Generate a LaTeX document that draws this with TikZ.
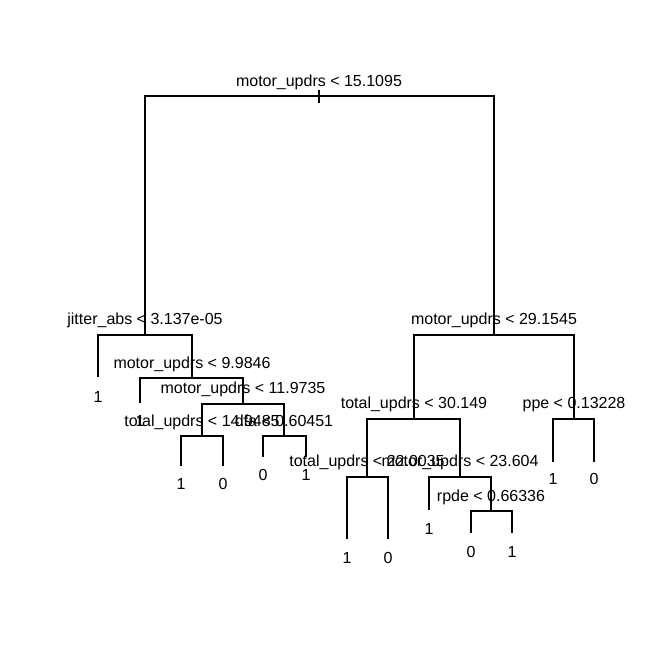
\documentclass[tikz,border=0pt]{standalone}
\usepackage{fontspec}
\setmainfont{Liberation Sans}
\begin{document}
\begin{tikzpicture}[x=1pt,y=-1pt,
  edge/.style={line width=1.1pt},
  lbl/.style={anchor=base,inner sep=0pt,font=\fontsize{16}{19}\selectfont}]
\useasboundingbox (0,0) rectangle (655,655);
% tree node positions
\coordinate (n1) at (319,96);
\coordinate (s1) at (319,90);
\coordinate (s2) at (319,103);
\coordinate (n2) at (145,335);
\coordinate (n3) at (494,335);
\coordinate (l1) at (98,377);
\coordinate (n4) at (192,378);
\coordinate (l2) at (140,403);
\coordinate (n5) at (243,404);
\coordinate (n6) at (202,436);
\coordinate (n7) at (284,436);
\coordinate (l3) at (181,466);
\coordinate (l4) at (223,466);
\coordinate (l5) at (263,457);
\coordinate (l6) at (306,457);
\coordinate (n8) at (414,419);
\coordinate (n9) at (574,419);
\coordinate (l7) at (553,462);
\coordinate (l8) at (594,462);
\coordinate (n10) at (367,477);
\coordinate (n11) at (460,477);
\coordinate (l9) at (347,539);
\coordinate (l10) at (388,539);
\coordinate (l11) at (429,510);
\coordinate (n12) at (491,511);
\coordinate (l12) at (471,533);
\coordinate (l13) at (512,533);
% edges
\draw[edge] (s1) -- (s2);
\draw[edge] (n1) -| (n2); \draw[edge] (n1) -| (n3);
\draw[edge] (n2) -| (l1); \draw[edge] (n2) -| (n4);
\draw[edge] (n4) -| (l2); \draw[edge] (n4) -| (n5);
\draw[edge] (n5) -| (n6); \draw[edge] (n5) -| (n7);
\draw[edge] (n6) -| (l3); \draw[edge] (n6) -| (l4);
\draw[edge] (n7) -| (l5); \draw[edge] (n7) -| (l6);
\draw[edge] (n3) -| (n8); \draw[edge] (n3) -| (n9);
\draw[edge] (n9) -| (l7); \draw[edge] (n9) -| (l8);
\draw[edge] (n8) -| (n10); \draw[edge] (n8) -| (n11);
\draw[edge] (n10) -| (l9); \draw[edge] (n10) -| (l10);
\draw[edge] (n11) -| (l11); \draw[edge] (n11) -| (n12);
\draw[edge] (n12) -| (l12); \draw[edge] (n12) -| (l13);
% split labels
\node[lbl] (t1) at (319,87) {motor\_updrs < 15.1095};
\node[lbl] (t2) at (145,324) {jitter\_abs < 3.137e-05};
\node[lbl] (t3) at (494,324) {motor\_updrs < 29.1545};
\node[lbl] (t4) at (192,368) {motor\_updrs < 9.9846};
\node[lbl] (t5) at (243,393) {motor\_updrs < 11.9735};
\node[lbl] (t6) at (202,426) {total\_updrs < 14.9485};
\node[lbl] (t7) at (284,426) {dfa < 0.60451};
\node[lbl] (t8) at (414,408) {total\_updrs < 30.149};
\node[lbl] (t9) at (574,408) {ppe < 0.13228};
\node[lbl] (t10) at (367,466) {total\_updrs < 22.0035};
\node[lbl] (t11) at (460,466) {motor\_updrs < 23.604};
\node[lbl] (t12) at (491,501) {rpde < 0.66336};
% leaf labels
\node[lbl] (v1) at (98,402) {1};
\node[lbl] (v2) at (140,426) {1};
\node[lbl] (v3) at (181,489) {1};
\node[lbl] (v4) at (223,489) {0};
\node[lbl] (v5) at (263,480) {0};
\node[lbl] (v6) at (306,480) {1};
\node[lbl] (v7) at (553,484) {1};
\node[lbl] (v8) at (594,484) {0};
\node[lbl] (v9) at (347,563) {1};
\node[lbl] (v10) at (388,563) {0};
\node[lbl] (v11) at (429,534) {1};
\node[lbl] (v12) at (471,557) {0};
\node[lbl] (v13) at (512,557) {1};
\end{tikzpicture}
\end{document}
